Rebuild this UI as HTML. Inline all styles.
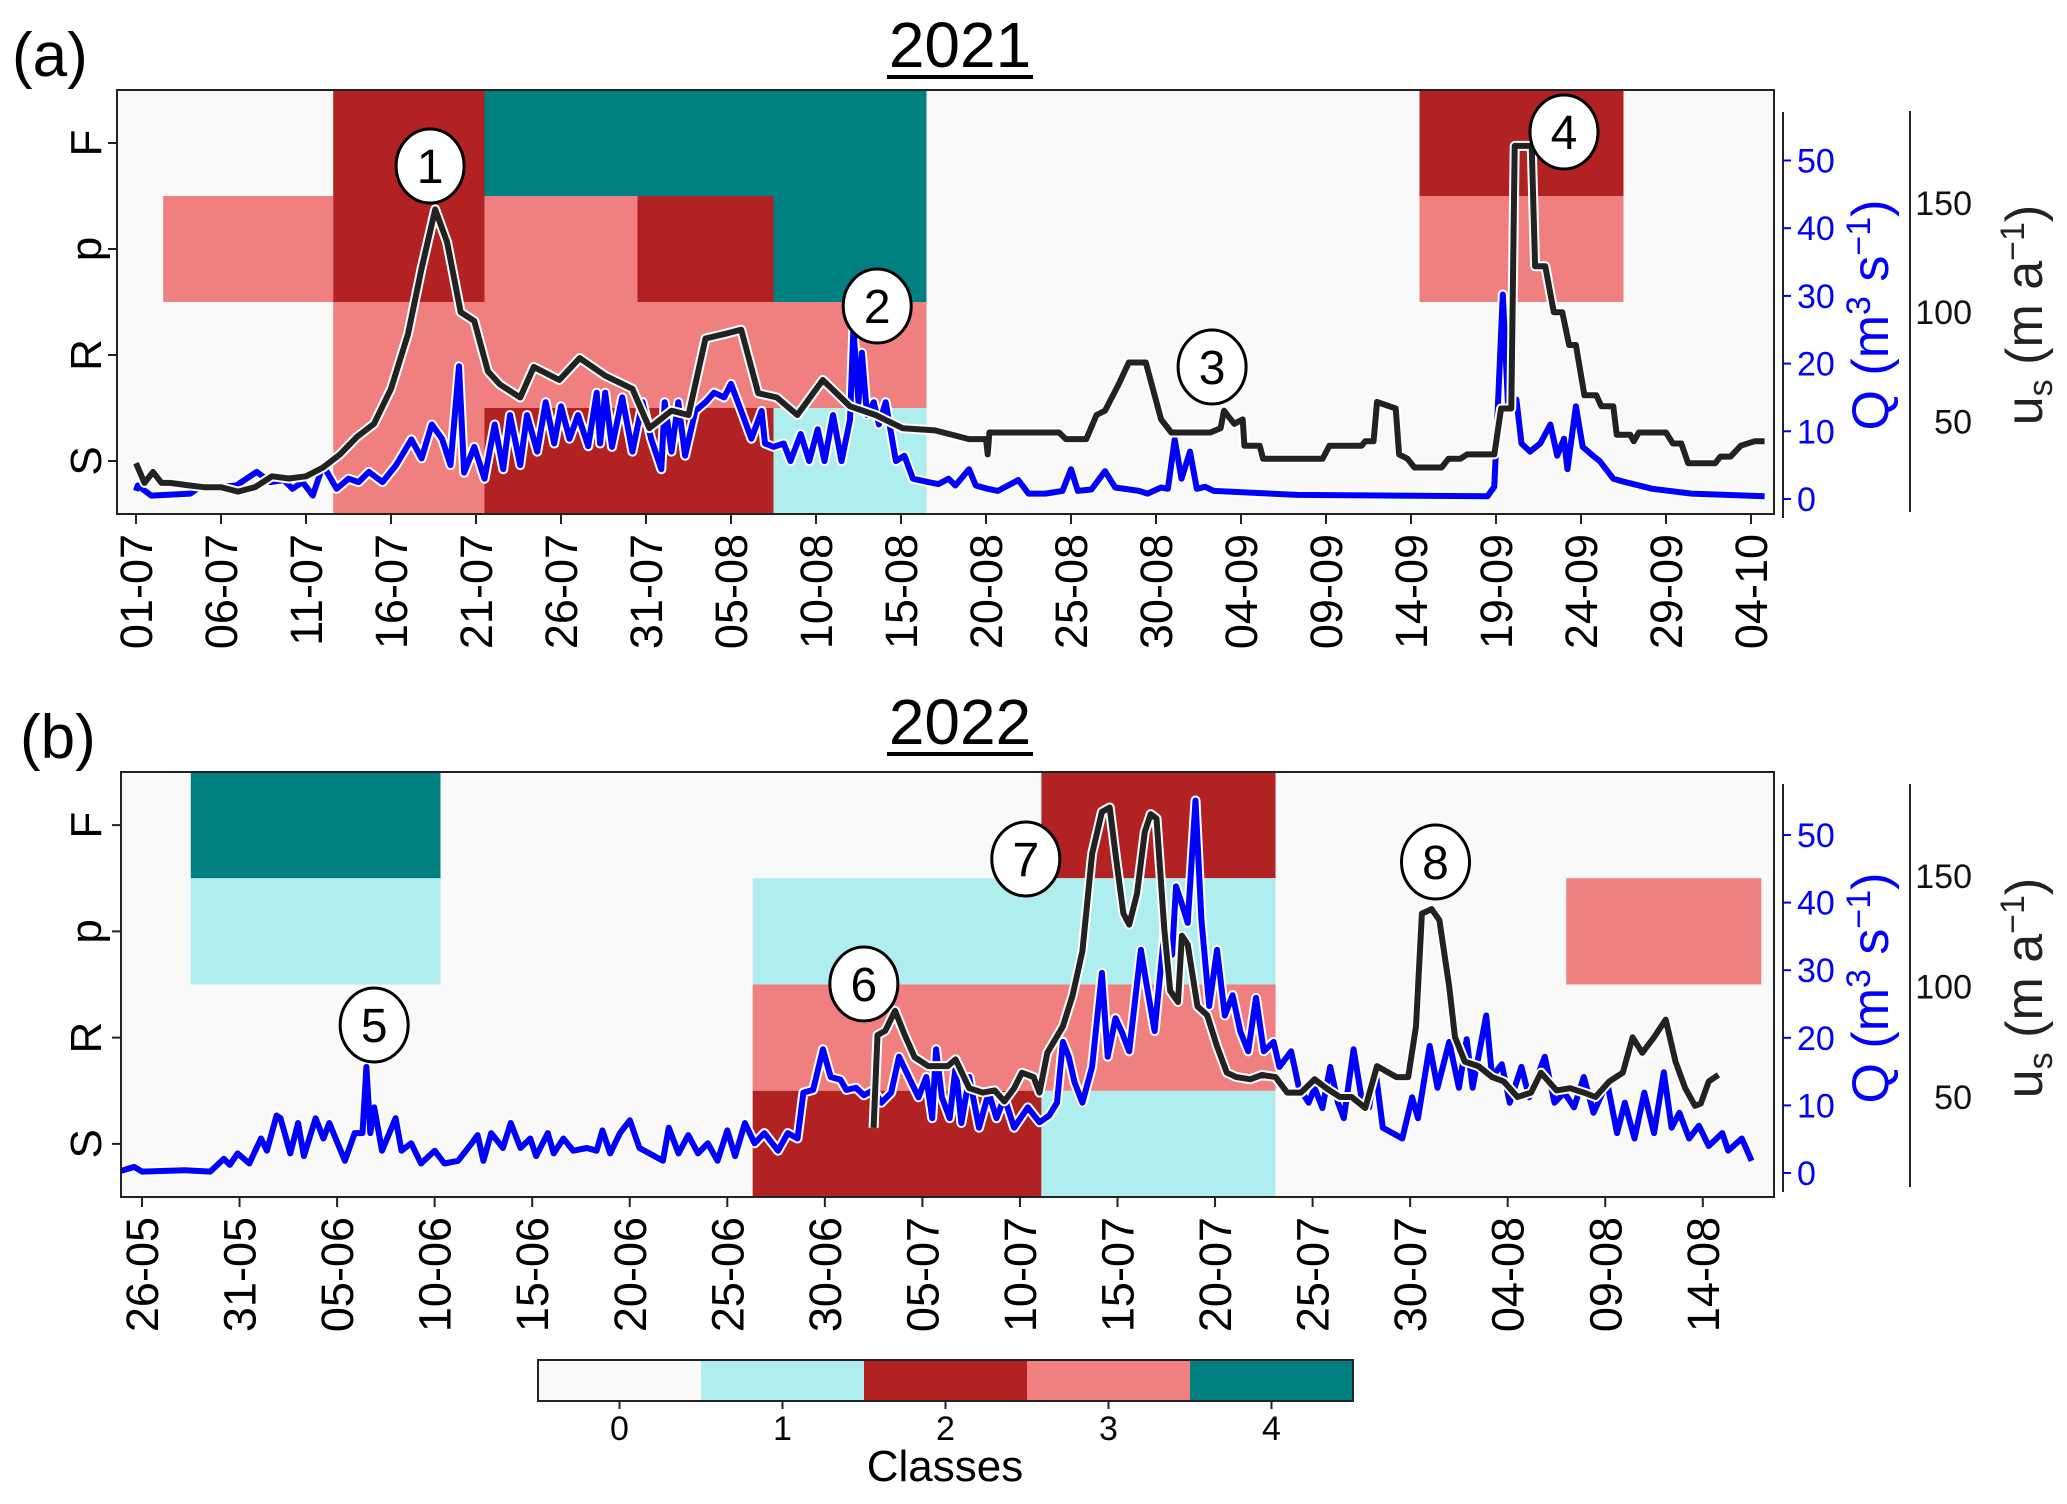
<!DOCTYPE html>
<html><head><meta charset="utf-8"><style>
body{margin:0;background:#fff;width:2067px;height:1499px;overflow:hidden}
svg text{font-family:"Liberation Sans",sans-serif}
</style></head><body>
<svg id="fig" width="2067" height="1499" viewBox="0 0 2067 1499" xmlns="http://www.w3.org/2000/svg">
<text x="12" y="76" font-size="62">(a)</text>
<text x="960" y="67" font-size="64" text-anchor="middle">2021</text>
<line x1="887" y1="77" x2="1033" y2="77" stroke="#000" stroke-width="4"/>
<text x="20" y="758" font-size="62">(b)</text>
<text x="960" y="744" font-size="64" text-anchor="middle">2022</text>
<line x1="887" y1="754" x2="1033" y2="754" stroke="#000" stroke-width="4"/>
<g id="pa"></g>
<g id="pb"></g>
<g id="cb"></g>
</svg>
<script>
// ---- data ----
const classColors = ["#f9f9f9","#afeeee","#b22222","#f08080","#008080"];
const classTicks = [0,1,2,3,4];
const rowLabels = ["F","p","R","S"];
const qTicks = [0,10,20,30,40,50];
const usTicks = [50,100,150];
const aDateLabels = ["01-07","06-07","11-07","16-07","21-07","26-07","31-07","05-08","10-08","15-08","20-08","25-08","30-08","04-09","09-09","14-09","19-09","24-09","29-09","04-10"];
const bDateLabels = ["26-05","31-05","05-06","10-06","15-06","20-06","25-06","30-06","05-07","10-07","15-07","20-07","25-07","30-07","04-08","09-08","14-08"];
// blocks: [row, startDay, endDay, class]
const aBlocks = [[0,11.6,20.5,2],[0,20.5,46.5,4],[0,75.5,87.5,2],
 [1,1.6,11.6,3],[1,11.6,20.5,2],[1,20.5,29.5,3],[1,29.5,37.5,2],[1,37.5,46.5,4],[1,75.5,87.5,3],
 [2,11.6,46.5,3],
 [3,11.6,20.5,3],[3,20.5,37.5,2],[3,37.5,46.5,1]];
const bBlocks = [[0,2.5,15.3,4],[0,46.1,58.1,2],
 [1,2.5,15.3,1],[1,31.3,58.1,1],[1,73,83,3],
 [2,31.3,58.1,3],
 [3,31.3,46.1,2],[3,46.1,58.1,1]];
const aUsDays=[0,0.5,1,1.5,2,3,4,5,6,7,8,9,10,11,12,13,14,15,16,16.8,17.6,18.3,19.1,19.9,20.7,21.4,22.6,23.4,24.9,26.1,27.6,29.2,30.2,31.5,32.5,33.5,34.6,35.6,36.6,37.7,38.9,40.4,42,43.5,45.1,47,49,50,50.1,50.2,52.8,54.3,54.7,55.9,56.5,57,57.8,58.4,59.4,60.3,60.9,63.2,63.8,64,64.6,65.1,65.2,66.1,66.3,69.8,70.2,72.1,72.3,72.8,73,74.1,74.3,74.8,75.2,76.8,77.2,77.9,78.3,79.9,80.3,80.9,81.1,82.1,82.3,82.9,83.4,83.9,84.3,84.7,85.2,85.9,86.2,86.9,87.1,87.9,88.1,88.4,90,90.4,90.9,91.3,92.9,93.2,93.8,94.4,95.2,95.8];
const aUsVals=[31,22,27,22,22,21,20,20,18,20,25,24,25,29,35,43,49,65,90,120,147,132,100,96,73,67,61,75,69,79,71,65,47,55,53,88,90,92,63,61,53,69,57,53,47,46,42,42,35,45,45,45,42,42,53,55,67,77,77,51,45,45,47,55,49,51,39,39,33,33,39,39,41,41,59,56,35,33,29,29,33,33,35,35,56,56,176,176,121,121,100,100,85,85,62,62,57,57,44,44,41,45,45,40,40,31,31,34,34,39,41,41];
const aQDays=[0,0.1,0.9,3.2,3.6,5.9,7.1,7.9,8.7,9.2,9.8,10.4,11,11.8,12.5,13.1,13.7,14.5,15.3,16.2,16.8,17.4,18,18.5,19,19.3,19.9,20.5,21.1,21.6,22,22.6,23,23.6,24.1,24.6,25,25.5,26,26.6,27.1,27.3,27.6,28,28.6,29.2,29.8,30.3,30.9,31.1,31.5,31.9,32.3,32.9,33.5,34,34.6,35,35.6,36.2,36.8,37,37.5,38.1,38.5,39.1,39.6,40.1,40.5,41,41.5,42,42.2,42.5,42.7,43,43.4,43.7,44.1,44.7,45.2,45.7,46.6,47.2,47.8,48.2,49,49.4,50.1,50.7,51.9,52.5,53.5,54.5,55,55.4,56.2,57,57.6,59,59.5,60.3,60.7,61.1,61.5,62,62.4,62.9,63.4,68.3,79.5,79.9,80.4,80.7,81.2,81.5,82,82.6,83.2,83.6,84,84.2,84.7,85.1,85.7,86.1,86.9,87.6,89.2,91.5,95.8];
const aQVals=[1.2,2,0.5,0.8,1.5,2,4,2.5,2.8,1.5,2.5,0.5,5,1.5,3,2.5,4,2.5,5,8.8,6,11,8.9,5,19.6,3.9,7.7,3,11,4.4,12.4,5,12.4,7,14.3,8.2,13.7,8.9,12.4,7.8,15.7,8.2,15.7,7.7,15,7,14.3,8.9,4.4,14.3,7,14.3,6.4,13,14.3,15.7,15,17,13,8.9,13,8.2,7.7,8.2,5.6,9.6,5.6,10.3,5.6,12.4,5.6,11.7,25.2,14.3,21.6,12.4,14.3,11,14.3,5.6,6.4,3,2.5,2.2,3,2,4.4,2,1.5,1.2,2.8,0.8,0.8,1.2,4.4,1.2,1.4,4.1,1.7,1.2,0.8,1.7,1.5,8.8,3,7,1.5,1.8,1.2,0.6,0.4,1.8,30.2,14.3,14.7,8.2,7,8.2,11,6.4,8.9,4.4,13.7,7.7,6.4,5.6,3,2.5,1.5,0.8,0.4];
const bUsDays=[37.5,37.7,38.1,38.6,39.1,39.6,40.3,41.3,41.7,42.4,43.1,43.7,44.2,44.7,45.1,45.7,46,46.4,47.2,47.7,48.2,48.7,49.2,49.6,49.9,50.3,50.6,51,51.4,51.7,52,52.4,52.7,53.1,53.3,53.6,54.1,54.6,55.1,55.6,56.1,56.8,57.4,58.1,58.7,59.4,60.1,60.7,61.4,62,62.7,63.3,64.3,64.9,65.3,65.6,66.1,66.5,67,67.3,67.8,68.5,69.2,69.8,70.5,71.2,71.7,72.5,73.2,73.9,74.5,75.2,75.9,76.4,76.9,77.5,78.1,78.6,79.1,79.6,79.9,80.3,80.8];
const bUsVals=[36,78,80,89,78,68,64,64,67,54,52,53,48,54,61,59,52,70,82,96,116,160,179,181,160,133,128,142,170,178,176,126,98,93,123,119,91,87,73,61,59,58,60,59,52,52,58,54,50,50,45,64,59,59,82,133,135,130,100,77,66,64,59,57,50,52,61,53,54,52,50,57,61,77,70,77,85,66,54,46,47,57,60];
const bQDays=[-1.2,-0.4,0,2.2,3.5,4.2,4.5,4.9,5.5,6.1,6.4,6.9,7.1,7.6,8,8.3,8.9,9.3,9.6,10.4,10.9,11.3,11.5,11.7,11.9,12.3,13,13.3,13.8,14.3,15,15.5,16.2,16.9,17.2,17.5,17.9,18.5,18.9,19.4,19.9,20.2,20.8,21.1,21.6,22.1,22.8,23.3,23.6,24,24.5,25,25.5,26.7,27,27.5,28,28.5,29,29.5,30,30.4,30.9,31.4,31.9,32.6,33.1,33.6,33.9,34.4,34.9,35.3,35.8,36.1,36.6,37,37.5,37.9,38.4,38.8,39.3,39.8,40.2,40.5,40.7,41,41.4,41.7,42,42.4,42.9,43.4,43.8,44.2,44.7,45.4,46,46.5,46.9,47.2,47.5,47.8,48.2,48.7,49.2,49.5,49.9,50.2,50.6,51.2,51.5,51.9,52.4,52.8,53,53.3,53.6,54,54.3,54.7,55.1,55.5,55.9,56.3,56.7,57.1,57.5,58,58.3,58.9,59.3,59.8,60.1,60.5,60.9,61.3,61.6,62.1,62.5,62.9,63.2,63.6,64.1,64.6,65.1,65.4,66,66.4,67,67.5,67.9,68.2,68.9,69.2,69.7,70.1,70.7,71.1,71.9,72.4,72.9,73.4,73.9,74.4,75.1,75.6,76,76.5,77,77.5,78,78.4,78.8,79.3,79.8,80.3,81,81.3,82,82.5];
const bQVals=[0.2,0.9,0.2,0.4,0.2,2.1,1.2,2.9,1.4,5.1,3.3,8.5,8.1,2.9,7.4,2.5,8.1,5.1,7.4,1.8,5.9,5.9,15.7,5.9,9.7,3.3,8.1,3.3,4.4,1.4,3.3,1.4,1.8,4.4,5.6,1.8,5.9,3.7,7.4,3.7,5.1,2.5,5.9,2.9,5.1,3.3,3.7,3.3,6.3,2.9,5.9,7.8,3.7,1.8,6.7,2.9,5.6,2.9,4.4,1.8,6.3,2.5,7.4,4.4,5.9,3.3,5.9,5.1,11.9,12.3,18.3,14.2,13.8,12.3,12.6,11.5,12.3,10.4,11.9,17.2,14.2,11.2,14.2,8.1,18.3,11.2,8.1,15.7,7.4,14.2,6.7,11.9,8.1,11.2,6.7,9.7,7.5,8.5,10.4,19.4,17.2,13.4,10.4,15.7,29.6,17.2,22.9,21,18,33,27.7,21,35.6,32.3,42.4,39.8,37,55.1,37.5,24.7,33,23.3,26.3,20.9,18,25.9,18,19.4,15.7,18,12.6,10.4,12.6,9.6,15.7,10.4,8.1,18.3,11.2,9.7,15.7,6.7,5.9,5.1,11.2,8.1,18.8,12.6,19.4,12.6,19.8,12.6,23.3,14.2,16.1,10.4,15.7,11.2,17.2,10.4,11.9,9.7,14.2,8.9,13.4,5.9,10.4,5.1,11.9,5.9,14.9,6.7,8.9,5.1,7,4,5.9,3.3,5.1,1.8];
const annA = [["1",17.3,166],["2",43.6,306],["3",63.3,367],["4",84,132]];
const annB = [["5",11.9,1025],["6",37,984],["7",45.3,859],["8",66.3,862]];

const NS="http://www.w3.org/2000/svg";
function mk(parent,tag,attrs,text){const e=document.createElementNS(NS,tag);for(const k in attrs)e.setAttribute(k,attrs[k]);if(text!==undefined)e.textContent=text;parent.appendChild(e);return e;}

function panel(g,P){
  const X=d=>P.x0+P.pxDay*d;
  const Yq=q=>P.q0-P.pxQ*q;
  const Yu=u=>P.u0-P.pxU*u;
  const W=P.right-P.left;
  const bg=mk(g,'rect',{x:P.left,y:P.top,width:W,height:P.bottom-P.top,fill:classColors[0]});
  
  
  const rowH=(P.bottom-P.top)/4;
  const clipId='clip'+P.id;
  const cp=mk(g,'clipPath',{id:clipId});mk(cp,'rect',{x:P.left,y:P.top,width:W,height:P.bottom-P.top});
  const hm=mk(g,'g',{'clip-path':`url(#${clipId})`});
  
  
  P.blocks.forEach(b=>{
    const r=mk(hm,'rect',{x:X(b[1]),y:P.top+b[0]*rowH,width:X(b[2])-X(b[1]),height:rowH,fill:classColors[b[3]]});
    
    
  });
  function line(days,vals,yf,color,name){
    let d='';days.forEach((dd,i)=>{d+=(i?'L':'M')+X(dd).toFixed(1)+','+yf(vals[i]).toFixed(1);});
    const w=mk(hm,'path',{d:d,fill:'none',stroke:'#fff','stroke-width':10,'stroke-linejoin':'round'});
    
    
    const p=mk(hm,'path',{d:d,fill:'none',stroke:color,'stroke-width':6,'stroke-linejoin':'round'});
    
    
  }
  line(P.qDays,P.qVals,Yq,'#0000ff','discharge-line');
  line(P.uDays,P.uVals,Yu,'#222','velocity-line');
  const fr=mk(g,'rect',{x:P.left,y:P.top,width:W,height:P.bottom-P.top,fill:'none',stroke:'#222','stroke-width':2});
  
  
  rowLabels.forEach((l,i)=>{
    const y=P.top+rowH*(i+0.5);
    mk(g,'line',{x1:P.left-9,x2:P.left,y1:y,y2:y,stroke:'#222','stroke-width':2});
    const t=mk(g,'text',{x:0,y:0,'font-size':44,'font-family':'DejaVu Sans, sans-serif','text-anchor':'middle',transform:`translate(101,${y}) rotate(-90)`},l);
    
    
  });
  P.dates.forEach((l,i)=>{
    const x=X(i*5);
    mk(g,'line',{x1:x,x2:x,y1:P.bottom,y2:P.bottom+10,stroke:'#222','stroke-width':2});
    const t=mk(g,'text',{x:0,y:0,'font-size':45,'font-family':'DejaVu Sans, sans-serif','text-anchor':'end',transform:`translate(${x+16},${P.bottom+20}) rotate(-90)`},l);
    
    
  });
  const qs=mk(g,'line',{x1:1783,x2:1783,y1:P.qTop,y2:P.qBot,stroke:'#222','stroke-width':2});
  
  
  qTicks.forEach(q=>{
    const y=Yq(q);
    mk(g,'line',{x1:1783,x2:1791,y1:y,y2:y,stroke:'#0000ff','stroke-width':2});
    const t=mk(g,'text',{x:1797,y:y+12,'font-size':34,fill:'#0000ff'},String(q));
    
    
  });
  const ql=mk(g,'text',{x:0,y:0,'font-size':52,fill:'#0000ff','text-anchor':'middle',transform:`translate(1888,${P.qLabelY}) rotate(-90)`});
  ql.innerHTML='Q (m<tspan dy="-18" font-size="34">3</tspan><tspan dy="18"> s</tspan><tspan dy="-18" font-size="34">−1</tspan><tspan dy="18">)</tspan>';
  
  
  const us=mk(g,'line',{x1:1910,x2:1910,y1:P.uTop,y2:P.uBot,stroke:'#222','stroke-width':2});
  
  
  usTicks.forEach(u=>{
    const y=Yu(u);
    const t=mk(g,'text',{x:1972,y:y+12,'font-size':34,fill:'#111','text-anchor':'end'},String(u));
    
    
  });
  const ul=mk(g,'text',{x:0,y:0,'font-size':52,fill:'#222','text-anchor':'middle',transform:`translate(2042,${P.qLabelY}) rotate(-90)`});
  ul.innerHTML='u<tspan dy="10" font-size="34">s</tspan><tspan dy="-10"> (m a</tspan><tspan dy="-18" font-size="34">−1</tspan><tspan dy="18">)</tspan>';
  
  
  P.ann.forEach(a=>{
    const cx=X(a[1]);
    const c=mk(g,'ellipse',{cx:cx,cy:a[2],rx:34,ry:37,fill:'#fff',stroke:'#000','stroke-width':3});
    
    
    const t=mk(g,'text',{x:cx,y:a[2]+17,'font-size':48,'text-anchor':'middle'},a[0]);
    
    
  });
}

panel(document.getElementById('pa'),{id:'a',left:117,right:1774,top:90,bottom:514,x0:136,pxDay:17,q0:499,pxQ:6.77,u0:531,pxU:2.188,
 blocks:aBlocks,qDays:aQDays,qVals:aQVals,uDays:aUsDays,uVals:aUsVals,dates:aDateLabels,qTop:112,qBot:518,uTop:111,uBot:512,qLabelY:315,ann:annA});
panel(document.getElementById('pb'),{id:'b',left:121,right:1774,top:772,bottom:1197,x0:142,pxDay:19.51,q0:1173,pxQ:6.76,u0:1207.5,pxU:2.21,
 blocks:bBlocks,qDays:bQDays,qVals:bQVals,uDays:bUsDays,uVals:bUsVals,dates:bDateLabels,qTop:784,qBot:1192,uTop:784,uBot:1187,qLabelY:988,ann:annB});

const cb=document.getElementById('cb');
const cbL=538,cbW=163,cbT=1360,cbH=41;
classTicks.forEach((c,i)=>{
  const r=mk(cb,'rect',{x:cbL+i*cbW,y:cbT,width:cbW,height:cbH,fill:classColors[c]});
  
  
  const cx=cbL+(i+0.5)*cbW;
  mk(cb,'line',{x1:cx,x2:cx,y1:cbT+cbH,y2:cbT+cbH+8,stroke:'#222','stroke-width':2});
  const t=mk(cb,'text',{x:cx,y:1440,'font-size':34,'text-anchor':'middle'},String(c));
  
  
});
mk(cb,'rect',{x:cbL,y:cbT,width:cbW*5,height:cbH,fill:'none',stroke:'#222','stroke-width':2});
const ct=mk(cb,'text',{x:945,y:1481,'font-size':44,'text-anchor':'middle'},'Classes');


</script>
</body></html>
